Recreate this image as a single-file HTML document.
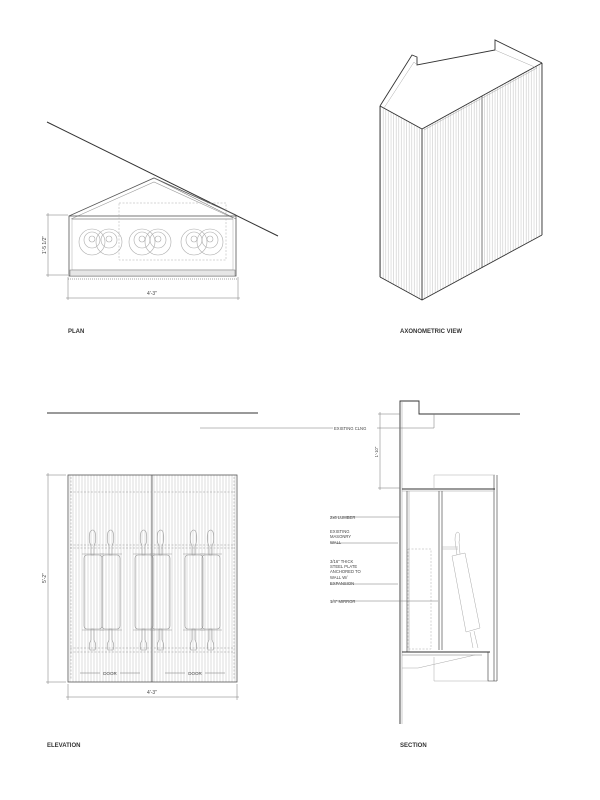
<!DOCTYPE html>
<html><head><style>
html,body{margin:0;padding:0;background:#fff;}
svg{display:block;}
text{font-family:"Liberation Sans",sans-serif;}
</style></head><body>
<svg width="600" height="800" viewBox="0 0 600 800" xmlns="http://www.w3.org/2000/svg">
<defs>
<pattern id="flute" width="3" height="10" patternUnits="userSpaceOnUse">
<line x1="1" y1="0" x2="1" y2="10" stroke="#c4c4c4" stroke-width="0.6"/>
</pattern>
<pattern id="flute2" width="2.6" height="10" patternUnits="userSpaceOnUse">
<line x1="1" y1="0" x2="1" y2="10" stroke="#c0c0c0" stroke-width="0.5"/>
</pattern>
</defs>
<rect width="600" height="800" fill="#fff"/>

<!-- PLAN -->
<g fill="none" stroke="#333" stroke-width="0.8">
<line x1="47" y1="122" x2="278" y2="236" stroke-width="1"/>
<polyline points="69,216 154,178 236,215" stroke="#555"/>
<polyline points="71,219 154,182 233,218" stroke="#999" stroke-width="0.6"/>
<polyline points="154,178 158,180 236,219" stroke="#777" stroke-width="0.6"/>
<rect x="69" y="216" width="167" height="60" stroke="#555"/>
<line x1="72" y1="219" x2="233" y2="219" stroke="#777"/>
<rect x="72" y="219" width="161" height="51" stroke="#aaa" stroke-width="0.5"/>
<rect x="70" y="270" width="165" height="6" fill="#e6e6e6" stroke="#777" stroke-width="0.5"/>
<rect x="119" y="203" width="107" height="57" stroke="#aaa" stroke-width="0.5" stroke-dasharray="2,1.5"/>
<line x1="68" y1="279" x2="237" y2="279" stroke="#888" stroke-dasharray="1,1"/>
</g>
<g fill="none" stroke="#aaa" stroke-width="0.6">
<circle cx="92" cy="242" r="13"/><circle cx="92" cy="240" r="8"/><circle cx="92" cy="239" r="3"/>
<circle cx="109" cy="242" r="13"/><circle cx="109" cy="240" r="8"/><circle cx="109" cy="239" r="3"/>
<circle cx="142" cy="242" r="13"/><circle cx="142" cy="240" r="8"/><circle cx="142" cy="239" r="3"/>
<circle cx="158" cy="242" r="13"/><circle cx="158" cy="240" r="8"/><circle cx="158" cy="239" r="3"/>
<circle cx="194" cy="242" r="13"/><circle cx="194" cy="240" r="8"/><circle cx="194" cy="239" r="3"/>
<circle cx="210" cy="242" r="13"/><circle cx="210" cy="240" r="8"/><circle cx="210" cy="239" r="3"/>
</g>
<g stroke="#777" stroke-width="0.5" fill="none">
<line x1="68" y1="277" x2="68" y2="300"/><line x1="238" y1="277" x2="238" y2="300"/>
<line x1="66" y1="298" x2="240" y2="298"/>
<line x1="46" y1="215" x2="68" y2="215"/><line x1="46" y1="275" x2="68" y2="275"/>
<line x1="48" y1="213" x2="48" y2="277"/>
</g>
<text x="152" y="295" font-size="5" text-anchor="middle" fill="#444">4'-3"</text>
<text x="0" y="0" font-size="5" text-anchor="middle" fill="#444" transform="translate(46,245) rotate(-90)">1'-5 1/2"</text>
<text x="68" y="333" font-size="6" font-weight="bold" fill="#333">PLAN</text>

<!-- AXONOMETRIC -->
<polygon points="380,106 422,129 422,300 380,277" fill="url(#flute2)"/>
<polygon points="422,129 542,63 542,235 422,300" fill="url(#flute2)"/>
<g fill="none" stroke="#333" stroke-width="0.9">
<polyline points="380,106 412,55 417,57 417,65 495,50 495,40 540,62 542,63"/>
<polyline points="380,106 422,129 542,63"/>
<line x1="380" y1="106" x2="380" y2="277"/>
<line x1="422" y1="129" x2="422" y2="300"/>
<line x1="542" y1="63" x2="542" y2="235"/>
<polyline points="380,277 422,300 542,235"/>
<line x1="482" y1="96" x2="482" y2="268" stroke-width="0.6"/>
<polyline points="384,108 414,62 417,65" stroke="#aaa" stroke-width="0.5"/>
<polyline points="495,50 537,68 424,130" stroke="#aaa" stroke-width="0.5"/>
</g>
<text x="400" y="333" font-size="6" font-weight="bold" fill="#333">AXONOMETRIC VIEW</text>

<!-- ELEVATION -->
<line x1="47" y1="413" x2="258" y2="413" stroke="#333" stroke-width="1"/>
<rect x="68" y="475" width="169" height="207" fill="url(#flute)" stroke="#555" stroke-width="0.8"/>
<line x1="152" y1="475" x2="152" y2="682" stroke="#555" stroke-width="0.8"/>
<g stroke="#999" stroke-width="0.5" fill="none" stroke-dasharray="2,1.5">
<line x1="70" y1="492" x2="235" y2="492"/>
<line x1="70" y1="545" x2="235" y2="545"/><line x1="70" y1="548" x2="235" y2="548"/>
<line x1="70" y1="648" x2="235" y2="648"/><line x1="70" y1="652" x2="235" y2="652"/>
<line x1="71" y1="477" x2="71" y2="680"/><line x1="234" y1="477" x2="234" y2="680"/>
</g>
<g stroke="#999" stroke-width="0.6" fill="none">
<g id="sc">
<rect x="84" y="555" width="18" height="74" rx="3"/>
<path d="M91,555 L91,546 Q88,540 90,532 Q93,528 95,532 Q97,540 94,546 L94,555 Z"/>
<path d="M91,629 L91,640 Q88,645 90,650 L95,650 Q97,645 94,640 L94,629 Z"/>
<line x1="82" y1="554" x2="104" y2="554"/><line x1="82" y1="630" x2="104" y2="630"/>
</g>
<use href="#sc" x="18"/><use href="#sc" x="51"/><use href="#sc" x="68"/><use href="#sc" x="101"/><use href="#sc" x="118"/>
</g>
<g stroke="#777" stroke-width="0.5" fill="none">
<line x1="80" y1="673" x2="100" y2="673"/><line x1="120" y1="673" x2="140" y2="673"/>
<line x1="165" y1="673" x2="185" y2="673"/><line x1="205" y1="673" x2="225" y2="673"/>
<line x1="68" y1="684" x2="68" y2="700"/><line x1="237" y1="684" x2="237" y2="700"/>
<line x1="66" y1="697" x2="239" y2="697"/>
<line x1="46" y1="475" x2="66" y2="475"/><line x1="46" y1="682" x2="66" y2="682"/>
<line x1="48" y1="473" x2="48" y2="684"/>
</g>
<text x="110" y="675" font-size="4.5" text-anchor="middle" fill="#444">DOOR</text>
<text x="195" y="675" font-size="4.5" text-anchor="middle" fill="#444">DOOR</text>
<text x="152" y="694" font-size="5" text-anchor="middle" fill="#444">4'-3"</text>
<text x="0" y="0" font-size="5" text-anchor="middle" fill="#444" transform="translate(46,578) rotate(-90)">5'-2"</text>
<text x="47" y="747" font-size="6" font-weight="bold" fill="#333">ELEVATION</text>

<!-- SECTION -->
<g fill="none" stroke="#333" stroke-width="0.9">
<polyline points="400,724 400,401 419,401 419,414 520,414"/>
<line x1="402" y1="401" x2="402" y2="724" stroke="#999" stroke-width="0.5"/>
<line x1="402" y1="489" x2="495" y2="489"/>
<line x1="402" y1="491" x2="493" y2="491" stroke="#999" stroke-width="0.5"/>
<line x1="407" y1="491" x2="407" y2="652" stroke-width="0.6"/>
<line x1="409" y1="491" x2="409" y2="652" stroke="#999" stroke-width="0.5"/>
<line x1="439" y1="491" x2="439" y2="650" stroke-width="0.6"/>
<line x1="442" y1="491" x2="442" y2="650" stroke-width="0.6"/>
<line x1="494" y1="475" x2="494" y2="681" stroke-width="0.6"/>
<line x1="497" y1="475" x2="497" y2="681" stroke-width="0.6"/>
<line x1="402" y1="652" x2="490" y2="652"/>
<line x1="402" y1="655" x2="482" y2="655" stroke="#777" stroke-width="0.5"/>
<polyline points="488,652 488,681 497,681" stroke-width="0.6"/>
</g>
<g fill="none" stroke="#aaa" stroke-width="0.5">
<polyline points="434,489 434,475 495,475"/>
<polyline points="402,668 418,668 475,655"/>
<polyline points="434,657 434,681 488,681"/>
<rect x="408" y="549" width="23" height="100" stroke-dasharray="2,1.5"/>
<line x1="442" y1="547" x2="458" y2="547"/><line x1="442" y1="549" x2="458" y2="549"/>
<polygon points="452,556 465,553 480,628 466,632"/>
<path d="M457,555 L455,540 Q455,532 458,532 Q461,534 459,542 L460,554"/>
<line x1="470" y1="632" x2="473" y2="648"/><line x1="474" y1="631" x2="478" y2="648"/>
</g>
<g stroke="#777" stroke-width="0.5" fill="none">
<line x1="378" y1="414" x2="400" y2="414"/><line x1="378" y1="488" x2="400" y2="488"/>
<line x1="380" y1="412" x2="380" y2="490"/>
<polyline points="200,428 434,428 434,414"/>
<line x1="330" y1="517" x2="400" y2="517"/>
<line x1="330" y1="543" x2="398" y2="543"/>
<line x1="330" y1="584" x2="398" y2="584"/>
<line x1="330" y1="601" x2="438" y2="601"/>
</g>
<rect x="333" y="424" width="44" height="8" fill="#fff"/>
<g font-size="4.2" fill="#444">
<text x="334" y="430">EXISTING CLNG</text>
<text x="0" y="0" text-anchor="middle" transform="translate(378,452) rotate(-90)">1'-10"</text>
<text x="330" y="519">2x6 LUMBER</text>
<text x="330" y="533">EXISTING</text><text x="330" y="538">MASONRY</text><text x="330" y="544">WALL</text>
<text x="330" y="563">3/16" THICK</text><text x="330" y="568">STEEL PLATE</text><text x="330" y="573">ANCHORED TO</text><text x="330" y="579">WALL W/</text><text x="330" y="585">EXPANSION</text>
<text x="330" y="603">1/4" MIRROR</text>
</g>
<text x="400" y="747" font-size="6" font-weight="bold" fill="#333">SECTION</text>
</svg>
</body></html>
